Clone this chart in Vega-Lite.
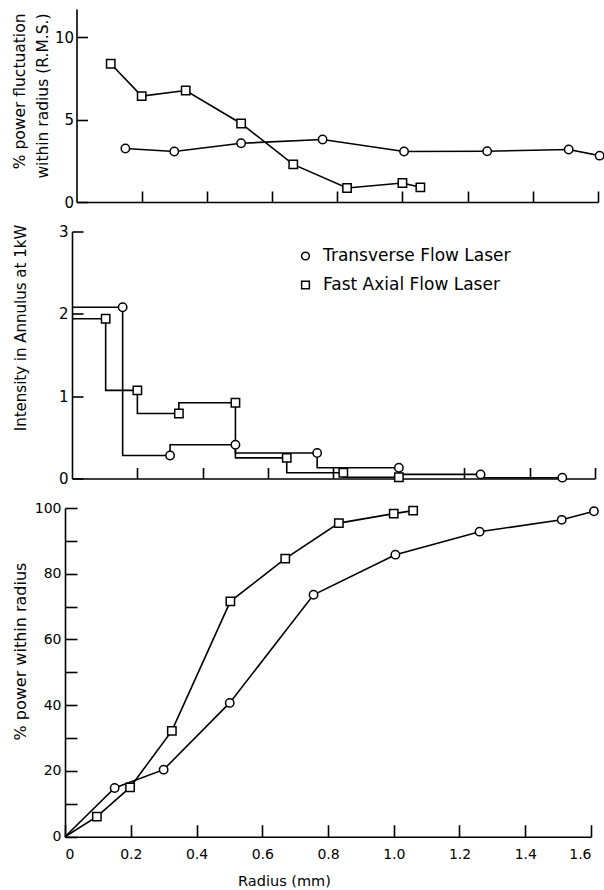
{
  "$schema": "https://vega.github.io/schema/vega-lite/v6.json",
  "background": "white",
  "padding": {"left": 12, "top": 9, "right": 0, "bottom": 0},
  "config": {
    "font": "DejaVu Sans",
    "view": {"stroke": null},
    "axis": {"domainColor": "black", "domainWidth": 1.6, "tickColor": "black", "tickWidth": 1.6, "grid": false, "labelColor": "black", "titleColor": "black", "titleFontWeight": "normal", "labelFont": "DejaVu Sans", "titleFont": "DejaVu Sans"}
  },
  "bounds": "flush",
  "spacing": 29.5,
  "resolve": {"legend": {"shape": "independent"}},
  "datasets": {
    "fluct": [
      {"r": 0.105, "v": 8.38, "series": "Fast Axial Flow Laser"},
      {"r": 0.2, "v": 6.42, "series": "Fast Axial Flow Laser"},
      {"r": 0.335, "v": 6.76, "series": "Fast Axial Flow Laser"},
      {"r": 0.505, "v": 4.76, "series": "Fast Axial Flow Laser"},
      {"r": 0.665, "v": 2.28, "series": "Fast Axial Flow Laser"},
      {"r": 0.83, "v": 0.85, "series": "Fast Axial Flow Laser"},
      {"r": 1.0, "v": 1.15, "series": "Fast Axial Flow Laser"},
      {"r": 1.055, "v": 0.89, "series": "Fast Axial Flow Laser"},
      {"r": 0.15, "v": 3.24, "series": "Transverse Flow Laser"},
      {"r": 0.3, "v": 3.06, "series": "Transverse Flow Laser"},
      {"r": 0.505, "v": 3.56, "series": "Transverse Flow Laser"},
      {"r": 0.755, "v": 3.79, "series": "Transverse Flow Laser"},
      {"r": 1.005, "v": 3.06, "series": "Transverse Flow Laser"},
      {"r": 1.26, "v": 3.08, "series": "Transverse Flow Laser"},
      {"r": 1.51, "v": 3.18, "series": "Transverse Flow Laser"},
      {"r": 1.605, "v": 2.81, "series": "Transverse Flow Laser"}
    ],
    "intensity": [
      {"r": 0, "v": 2.08, "series": "Transverse Flow Laser", "kind": "start"},
      {"r": 0.155, "v": 2.08, "series": "Transverse Flow Laser", "kind": "annulus"},
      {"r": 0.3, "v": 0.28, "series": "Transverse Flow Laser", "kind": "annulus"},
      {"r": 0.5, "v": 0.41, "series": "Transverse Flow Laser", "kind": "annulus"},
      {"r": 0.75, "v": 0.31, "series": "Transverse Flow Laser", "kind": "annulus"},
      {"r": 1.0, "v": 0.13, "series": "Transverse Flow Laser", "kind": "annulus"},
      {"r": 1.25, "v": 0.05, "series": "Transverse Flow Laser", "kind": "annulus"},
      {"r": 1.5, "v": 0.01, "series": "Transverse Flow Laser", "kind": "annulus"},
      {"r": 0, "v": 1.94, "series": "Fast Axial Flow Laser", "kind": "start"},
      {"r": 0.103, "v": 1.94, "series": "Fast Axial Flow Laser", "kind": "annulus"},
      {"r": 0.2, "v": 1.07, "series": "Fast Axial Flow Laser", "kind": "annulus"},
      {"r": 0.327, "v": 0.79, "series": "Fast Axial Flow Laser", "kind": "annulus"},
      {"r": 0.5, "v": 0.92, "series": "Fast Axial Flow Laser", "kind": "annulus"},
      {"r": 0.657, "v": 0.25, "series": "Fast Axial Flow Laser", "kind": "annulus"},
      {"r": 0.83, "v": 0.07, "series": "Fast Axial Flow Laser", "kind": "annulus"},
      {"r": 1.0, "v": 0.015, "series": "Fast Axial Flow Laser", "kind": "annulus"}
    ],
    "power": [
      {"r": 0, "v": 0, "series": "Transverse Flow Laser", "kind": "origin"},
      {"r": 0.151, "v": 14.8, "series": "Transverse Flow Laser", "kind": "point"},
      {"r": 0.3, "v": 20.4, "series": "Transverse Flow Laser", "kind": "point"},
      {"r": 0.501, "v": 40.7, "series": "Transverse Flow Laser", "kind": "point"},
      {"r": 0.756, "v": 73.6, "series": "Transverse Flow Laser", "kind": "point"},
      {"r": 1.005, "v": 85.8, "series": "Transverse Flow Laser", "kind": "point"},
      {"r": 1.261, "v": 92.8, "series": "Transverse Flow Laser", "kind": "point"},
      {"r": 1.511, "v": 96.4, "series": "Transverse Flow Laser", "kind": "point"},
      {"r": 1.609, "v": 99.0, "series": "Transverse Flow Laser", "kind": "point"},
      {"r": 0, "v": 0, "series": "Fast Axial Flow Laser", "kind": "origin"},
      {"r": 0.097, "v": 6.1, "series": "Fast Axial Flow Laser", "kind": "point"},
      {"r": 0.198, "v": 15.0, "series": "Fast Axial Flow Laser", "kind": "point"},
      {"r": 0.325, "v": 32.2, "series": "Fast Axial Flow Laser", "kind": "point"},
      {"r": 0.503, "v": 71.6, "series": "Fast Axial Flow Laser", "kind": "point"},
      {"r": 0.67, "v": 84.6, "series": "Fast Axial Flow Laser", "kind": "point"},
      {"r": 0.833, "v": 95.4, "series": "Fast Axial Flow Laser", "kind": "point"},
      {"r": 1.0, "v": 98.3, "series": "Fast Axial Flow Laser", "kind": "point"},
      {"r": 1.059, "v": 99.2, "series": "Fast Axial Flow Laser", "kind": "point"}
    ]
  },
  "vconcat": [
    {
      "width": 533,
      "height": 193,
      "data": {"name": "fluct"},
      "encoding": {
        "x": {"field": "r", "type": "quantitative", "scale": {"domain": [-0.0353, 1.6], "nice": false, "zero": false},
          "axis": {"values": [0.2, 0.4, 0.6, 0.8, 1.0, 1.2, 1.4, 1.6], "labels": false, "title": null, "tickSize": -11, "domainDash": [0, 11.5, 2000]}},
        "y": {"field": "v", "type": "quantitative", "scale": {"domain": [0, 11.7], "nice": false},
          "axis": {"values": [0, 5, 10], "tickSize": -11, "offset": -11.5, "labelPadding": 14, "labelFontSize": 15,
            "title": ["% power fluctuation", "within radius (R.M.S.)"], "titleFontSize": 15.5, "titlePadding": 4, "titleLineHeight": 23, "titleAlign": "right", "titleY": 4}}
      },
      "layer": [
        {"mark": {"type": "line", "color": "black", "strokeWidth": 1.6}, "encoding": {"detail": {"field": "series"}}},
        {"mark": {"type": "point", "filled": true, "fill": "white", "stroke": "black", "strokeWidth": 1.5, "size": 70, "opacity": 1},
          "encoding": {"shape": {"field": "series", "type": "nominal", "scale": {"domain": ["Transverse Flow Laser", "Fast Axial Flow Laser"], "range": ["circle", "square"]}, "legend": null}}}
      ]
    },
    {
      "width": 530,
      "height": 247,
      "data": {"name": "intensity"},
      "encoding": {
        "x": {"field": "r", "type": "quantitative", "scale": {"domain": [-0.0214, 1.6], "nice": false, "zero": false},
          "axis": {"values": [0.2, 0.4, 0.6, 0.8, 1.0, 1.2, 1.4, 1.6], "labels": false, "title": null, "tickSize": -11, "domainDash": [0, 7, 2000]}},
        "y": {"field": "v", "type": "quantitative", "scale": {"domain": [0, 3], "nice": false},
          "axis": {"values": [0, 1, 2, 3], "tickSize": -11, "offset": -7, "labelPadding": 15, "labelFontSize": 15,
            "title": "Intensity in Annulus at 1kW", "titleFontSize": 15, "titlePadding": 30, "titleY": 96}}
      },
      "layer": [
        {"mark": {"type": "line", "color": "black", "strokeWidth": 1.6, "interpolate": "step-before"}, "encoding": {"detail": {"field": "series"}}},
        {"transform": [{"filter": "datum.kind != 'start'"}],
          "mark": {"type": "point", "filled": true, "fill": "white", "stroke": "black", "strokeWidth": 1.5, "size": 70, "opacity": 1},
          "encoding": {"shape": {"field": "series", "type": "nominal", "scale": {"domain": ["Transverse Flow Laser", "Fast Axial Flow Laser"], "range": ["circle", "square"]},
            "legend": {"orient": "none", "legendX": 232, "legendY": 16, "title": null, "padding": 0, "labelFontSize": 17, "labelColor": "black", "labelFont": "DejaVu Sans", "labelLimit": 400, "symbolSize": 60, "rowPadding": 11, "labelOffset": 9,
              "encode": {"symbols": {"update": {"fill": {"value": "white"}, "stroke": {"value": "black"}, "strokeWidth": {"value": 1.5}, "opacity": {"value": 1}}}}}}}}
      ]
    },
    {
      "width": 526,
      "height": 328.7,
      "data": {"name": "power"},
      "encoding": {
        "x": {"field": "r", "type": "quantitative", "scale": {"domain": [0, 1.6], "nice": false},
          "axis": {"values": [0, 0.2, 0.4, 0.6, 0.8, 1.0, 1.2, 1.4, 1.6], "labelExpr": "datum.value == 0 ? '0' : format(datum.value, '.1f')", "tickSize": -12, "labelPadding": 23, "labelFontSize": 14,
            "title": "Radius (mm)", "titleFontSize": 14.5, "titlePadding": 13, "titleX": 219}},
        "y": {"field": "v", "type": "quantitative", "scale": {"domain": [0, 100], "nice": false},
          "axis": {"values": [0, 10, 20, 30, 40, 50, 60, 70, 80, 90, 100], "labelExpr": "datum.value % 20 == 0 ? datum.label : ''", "tickSize": -12, "labelPadding": 16, "labelFontSize": 14,
            "title": "% power within radius", "titleFontSize": 16, "titlePadding": 6, "titleY": 143}}
      },
      "layer": [
        {"mark": {"type": "line", "color": "black", "strokeWidth": 1.6}, "encoding": {"detail": {"field": "series"}}},
        {"transform": [{"filter": "datum.kind != 'origin'"}],
          "mark": {"type": "point", "filled": true, "fill": "white", "stroke": "black", "strokeWidth": 1.5, "size": 70, "opacity": 1},
          "encoding": {"shape": {"field": "series", "type": "nominal", "scale": {"domain": ["Transverse Flow Laser", "Fast Axial Flow Laser"], "range": ["circle", "square"]}, "legend": null}}}
      ]
    }
  ]
}
